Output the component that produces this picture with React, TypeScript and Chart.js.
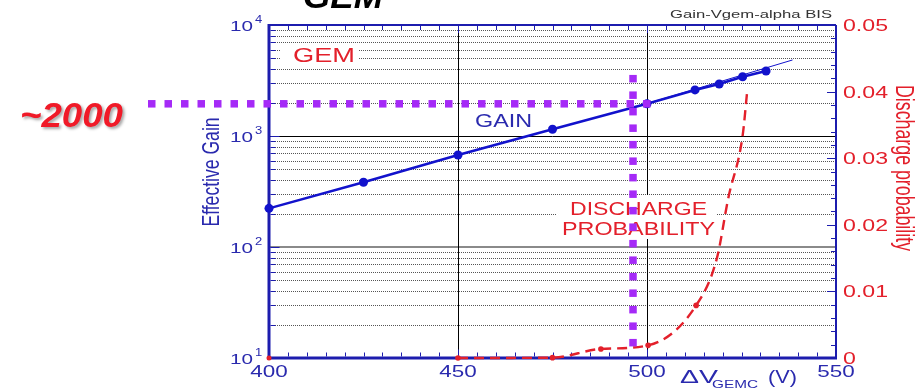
import React, { useEffect, useRef } from 'react';
import { Chart, registerables } from 'chart.js';

Chart.register(...registerables);

// ---- data ----
const gainVoltages = [400, 425, 450, 475, 500, 512.7, 519.1, 525.3, 531.5];
const gainValues = [223, 383, 675, 1150, 1950, 2600, 2940, 3420, 3850];

const fitVoltages = [500, 538.5];
const fitGains = [1960, 4840];

const dischargeStartVoltage = [400];
const dischargeStartProb = [0];
const dischargeVoltages = [450, 475, 487.8, 500.3, 513, 518.5, 521.5, 525.3, 526.5];
const dischargeProbs = [0, 0.00005, 0.00136, 0.0019, 0.0079, 0.015, 0.024, 0.0334, 0.04];
const dischargeMarked = [true, true, true, true, true, false, false, false, false];

const voltageTicks = [400, 450, 500, 550];
const voltageGridLines = [450, 500];
const gainTickExponents = [1, 2, 3, 4];
const probTicks = [0, 0.01, 0.02, 0.03, 0.04, 0.05];
const probTickLabels = ['0', '0.01', '0.02', '0.03', '0.04', '0.05'];

// operating point marked on the plot
const markVoltage = 496.3;
const markGain = 1950;
const markGainTop = 3550;
const markLabel = '~2000';

// ---- styling ----
const FONT = '"Liberation Sans", Arial, sans-serif';
const TEXT_BLUE = '#2a2aae';
const AXIS_BLUE = '#1c1cae';
const GAIN_BLUE = '#1212cc';
const RED = '#e3202b';
const PURPLE = '#a52af7';

type Align = 'left' | 'center' | 'right';

function drawText(
  ctx: CanvasRenderingContext2D,
  text: string,
  x: number,
  y: number,
  size: number,
  color: string,
  opts: { width?: number; sx?: number; align?: Align; weight?: string; style?: string } = {}
) {
  ctx.save();
  ctx.font = `${opts.style || 'normal'} ${opts.weight || 'normal'} ${size}px ${FONT}`;
  const w = ctx.measureText(text).width;
  const sx = opts.width ? opts.width / w : opts.sx || 1;
  const drawnW = w * sx;
  const align = opts.align || 'left';
  let x0 = x;
  if (align === 'center') x0 = x - drawnW / 2;
  if (align === 'right') x0 = x - drawnW;
  ctx.fillStyle = color;
  ctx.textAlign = 'left';
  ctx.textBaseline = 'alphabetic';
  ctx.translate(x0, y);
  ctx.scale(sx, 1);
  ctx.fillText(text, 0, 0);
  ctx.restore();
}

function hLine(ctx: CanvasRenderingContext2D, x1: number, x2: number, y: number) {
  ctx.beginPath();
  ctx.moveTo(x1, y);
  ctx.lineTo(x2, y);
  ctx.stroke();
}

function vLine(ctx: CanvasRenderingContext2D, x: number, y1: number, y2: number) {
  ctx.beginPath();
  ctx.moveTo(x, y1);
  ctx.lineTo(x, y2);
  ctx.stroke();
}

const decorPlugin = {
  id: 'gemDecor',
  beforeDatasetsDraw(chart: any) {
    const { ctx, chartArea: a, scales } = chart;
    const xs = scales.x;
    const ys = scales.y;
    const y2s = scales.y2;
    ctx.save();

    // minor gain grid (dotted)
    ctx.lineWidth = 1;
    ctx.strokeStyle = '#555';
    ctx.setLineDash([1, 1]);
    for (const decade of [10, 100, 1000]) {
      for (let m = 2; m <= 9; m++) {
        const py = Math.round(ys.getPixelForValue(m * decade)) + 0.5;
        hLine(ctx, a.left, a.right, py);
      }
    }
    ctx.setLineDash([]);

    // decade lines
    ctx.strokeStyle = '#8a8a8a';
    ctx.lineWidth = 2;
    hLine(ctx, a.left, a.right, Math.round(ys.getPixelForValue(100)));
    ctx.strokeStyle = '#000';
    ctx.lineWidth = 1;
    hLine(ctx, a.left, a.right, Math.round(ys.getPixelForValue(1000)) + 0.5);

    // voltage grid lines
    for (const v of voltageGridLines) {
      vLine(ctx, Math.round(xs.getPixelForValue(v)) + 0.5, a.top, a.bottom);
    }

    // label backgrounds
    ctx.fillStyle = '#fff';
    ctx.fillRect(280, 45, 78, 22);
    ctx.fillRect(556, 195, 160, 44);

    // in-plot labels
    drawText(ctx, 'GEM', 293, 62, 19.5, RED, { width: 62 });
    drawText(ctx, 'GAIN', 475, 127, 18.5, TEXT_BLUE, { width: 57 });
    drawText(ctx, 'DISCHARGE', 570, 215, 18.5, RED, { width: 137 });
    drawText(ctx, 'PROBABILITY', 562, 235, 18.5, RED, { width: 153 });

    // frame
    ctx.strokeStyle = AXIS_BLUE;
    ctx.lineWidth = 2;
    hLine(ctx, a.left, a.right, a.top);
    vLine(ctx, a.right, a.top, a.bottom);
    ctx.lineWidth = 3;
    vLine(ctx, a.left, a.top - 1, a.bottom + 1.5);
    hLine(ctx, a.left - 1, a.right + 1, a.bottom);

    // voltage ticks, top and bottom
    ctx.lineWidth = 1;
    for (let v = 405; v < 550; v += 5) {
      const px = Math.round(xs.getPixelForValue(v)) + 0.5;
      const len = v % 50 === 0 ? 7 : 4;
      vLine(ctx, px, a.bottom - 1.5, a.bottom - 1.5 - len);
      vLine(ctx, px, a.top + 1, a.top + 1 + len);
    }

    // gain ticks on the left
    for (const decade of [10, 100, 1000]) {
      for (let m = 1; m <= 9; m++) {
        if (m === 1 && decade === 10) continue;
        const py = Math.round(ys.getPixelForValue(m * decade)) + 0.5;
        hLine(ctx, a.left + 1.5, a.left + 1.5 + (m === 1 ? 9 : 5), py);
      }
    }

    // probability ticks on the right
    for (let i = 1; i < 25; i++) {
      const p = i * 0.002;
      const py = Math.round(y2s.getPixelForValue(p)) + 0.5;
      hLine(ctx, a.right - 1, a.right - 1 - (i % 5 === 0 ? 8 : 4), py);
    }

    ctx.restore();
  },
  afterDraw(chart: any) {
    const { ctx, chartArea: a, scales } = chart;
    const xs = scales.x;
    const ys = scales.y;
    const y2s = scales.y2;
    ctx.save();

    // heading
    drawText(ctx, 'GEM', 303, 8, 33, '#000', { width: 80, weight: 'bold', style: 'italic' });
    drawText(ctx, 'Gain-Vgem-alpha BIS', 670, 18, 11, '#333', { width: 162 });

    // voltage tick labels
    for (const v of voltageTicks) {
      drawText(ctx, String(v), xs.getPixelForValue(v), 377, 17, TEXT_BLUE, { sx: 1.32, align: 'center' });
    }

    // gain tick labels 10^n
    for (const e of gainTickExponents) {
      const py = ys.getPixelForValue(Math.pow(10, e));
      drawText(ctx, '10', 253, py + 5.5, 15.5, TEXT_BLUE, { width: 23, align: 'right' });
      drawText(ctx, String(e), 255, py - 2.5, 10, TEXT_BLUE, { sx: 1.3 });
    }

    // probability tick labels
    ctx.font = `16px ${FONT}`;
    const probSx = 45 / ctx.measureText('0.04').width;
    probTicks.forEach((p, i) => {
      const py = y2s.getPixelForValue(p);
      drawText(ctx, probTickLabels[i], 843, py + 6, 16, RED, { sx: probSx });
    });

    // axis titles
    ctx.save();
    ctx.translate(212, 172);
    ctx.rotate(-Math.PI / 2);
    ctx.scale(1, 1.4);
    ctx.font = `17.6px ${FONT}`;
    ctx.fillStyle = TEXT_BLUE;
    ctx.textAlign = 'center';
    ctx.textBaseline = 'middle';
    ctx.fillText('Effective Gain', 0, 0);
    ctx.restore();

    ctx.save();
    ctx.translate(903, 168);
    ctx.rotate(Math.PI / 2);
    ctx.scale(1, 1.4);
    ctx.font = `17.8px ${FONT}`;
    ctx.fillStyle = RED;
    ctx.textAlign = 'center';
    ctx.textBaseline = 'middle';
    ctx.fillText('Discharge probability', 0, 0);
    ctx.restore();

    drawText(ctx, '\u0394V', 680, 383, 19, TEXT_BLUE, { width: 38 });
    drawText(ctx, 'GEMC', 712, 388, 11, TEXT_BLUE, { width: 46 });
    drawText(ctx, '(V)', 768, 383, 19, TEXT_BLUE, { width: 29 });

    // operating point guides
    const hx2 = xs.getPixelForValue(501.6);
    const hy = ys.getPixelForValue(markGain);
    const vx = xs.getPixelForValue(markVoltage);
    const vy1 = ys.getPixelForValue(markGainTop);
    const vy2 = a.bottom - 4;
    ctx.fillStyle = PURPLE;
    const step = 16.5;
    const sq = 7.5;
    for (let px = 148; px + sq <= hx2 + 0.5; px += step) {
      ctx.fillRect(px, hy - sq / 2, sq, sq);
    }
    for (let py = vy1; py + sq <= vy2 + 0.5; py += step) {
      ctx.fillRect(vx - sq / 2, py, sq, sq);
    }

    ctx.save();
    ctx.shadowColor = 'rgba(0,0,0,0.35)';
    ctx.shadowBlur = 3;
    ctx.shadowOffsetX = 2;
    ctx.shadowOffsetY = 2;
    drawText(ctx, markLabel, 20, 127, 35, '#f01a28', { width: 103, weight: 'bold', style: 'italic' });
    ctx.restore();

    ctx.restore();
  },
};

export default function App() {
  const canvasRef = useRef<HTMLCanvasElement | null>(null);

  useEffect(() => {
    if (!canvasRef.current) return;
    const chart = new Chart(canvasRef.current, {
      type: 'scatter',
      data: {
        datasets: [
          {
            data: fitVoltages.map((v, i) => ({ x: v, y: fitGains[i] })),
            yAxisID: 'y',
            showLine: true,
            borderColor: GAIN_BLUE,
            borderWidth: 1,
            pointRadius: 0,
            clip: false,
          },
          {
            data: gainVoltages.map((v, i) => ({ x: v, y: gainValues[i] })),
            yAxisID: 'y',
            showLine: true,
            borderColor: GAIN_BLUE,
            borderWidth: 2.5,
            pointRadius: 4.5,
            pointBackgroundColor: GAIN_BLUE,
            pointBorderWidth: 0,
            clip: false,
          },
          {
            data: dischargeStartVoltage.map((v, i) => ({ x: v, y: dischargeStartProb[i] })),
            yAxisID: 'y2',
            showLine: false,
            pointRadius: 2.5,
            pointBackgroundColor: RED,
            pointBorderWidth: 0,
            clip: false,
          },
          {
            data: dischargeVoltages.map((v, i) => ({ x: v, y: dischargeProbs[i] })),
            yAxisID: 'y2',
            showLine: true,
            borderColor: RED,
            borderWidth: 2.4,
            borderDash: [10, 6],
            cubicInterpolationMode: 'monotone',
            pointRadius: dischargeMarked.map((m) => (m ? 2.8 : 0)),
            pointBackgroundColor: RED,
            pointBorderWidth: 0,
            clip: false,
          },
        ],
      },
      options: {
        responsive: false,
        animation: false,
        events: [],
        layout: { padding: { left: 269, right: 87, top: 25, bottom: 31 } },
        plugins: {
          legend: { display: false },
          tooltip: { enabled: false },
        },
        scales: {
          x: { type: 'linear', min: 400, max: 550, display: false },
          y: { type: 'logarithmic', min: 10, max: 10000, display: false },
          y2: { type: 'linear', min: 0, max: 0.05, display: false, position: 'right' },
        },
      },
      plugins: [decorPlugin],
    } as any);
    return () => chart.destroy();
  }, []);

  return (
    <div style={{ position: 'absolute', left: 0, top: 0, width: 923, height: 389, background: '#fff' }}>
      <canvas ref={canvasRef} width={923} height={389} style={{ display: 'block' }} />
    </div>
  );
}
